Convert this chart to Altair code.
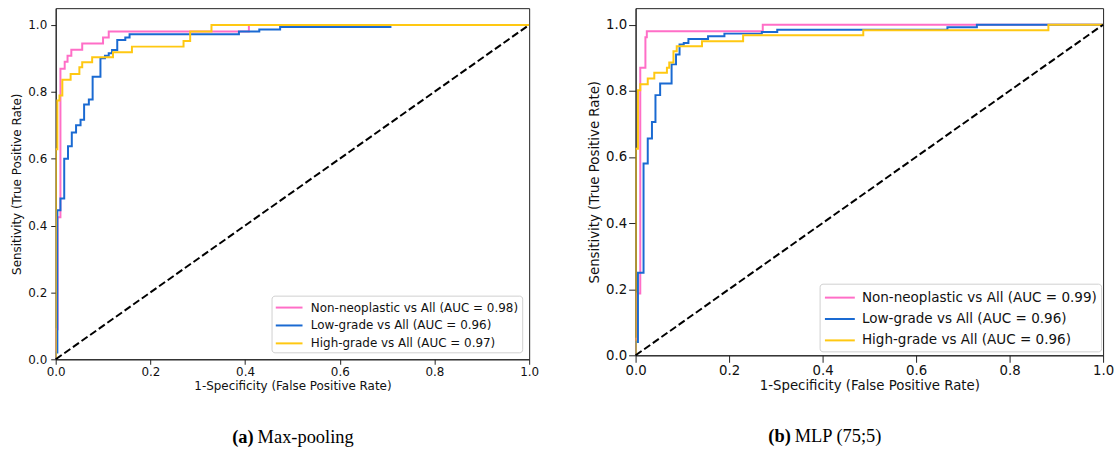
import altair as alt
import pandas as pd

# ---------------- data ----------------
series_names = ["Non-neoplastic", "Low-grade", "High-grade"]
colors = ["#ff6ec7", "#1a6ad2", "#ffc812"]

auc_a = ["0.98", "0.96", "0.97"]
auc_b = ["0.99", "0.96", "0.96"]

# (a) Max-pooling
a_non_fpr = [0, 0, 0.004, 0.01, 0.019, 0.025, 0.033, 0.056, 0.1, 0.112, 0.408, 1.0]
a_non_tpr = [0, 0.09, 0.425, 0.869, 0.89, 0.908, 0.926, 0.944, 0.962, 0.98, 1.0, 1.0]
a_low_fpr = [0, 0, 0.0035, 0.01, 0.018, 0.026, 0.034, 0.043, 0.0525, 0.06, 0.07, 0.078,
             0.0945, 0.104, 0.112, 0.119, 0.13, 0.147, 0.156, 0.387, 0.43, 0.474, 0.707, 1.0]
a_low_tpr = [0, 0.02, 0.446, 0.481, 0.6, 0.637, 0.678, 0.70, 0.716, 0.762, 0.777, 0.845,
             0.90, 0.908, 0.915, 0.925, 0.955, 0.962, 0.972, 0.98, 0.986, 0.994, 1.0, 1.0]
a_high_fpr = [0, 0, 0.0035, 0.008, 0.014, 0.0315, 0.05, 0.056, 0.077, 0.121, 0.161,
              0.27, 0.284, 0.329, 1.0]
a_high_tpr = [0, 0.628, 0.774, 0.789, 0.836, 0.853, 0.873, 0.888, 0.903, 0.918, 0.935,
              0.952, 0.98, 1.0, 1.0]

# (b) MLP (75;5)
b_non_fpr = [0, 0, 0.004, 0.01, 0.021, 0.024, 0.272, 1.0]
b_non_tpr = [0, 0.05, 0.187, 0.87, 0.962, 0.98, 1.0, 1.0]
b_low_fpr = [0, 0, 0.005, 0.017, 0.026, 0.035, 0.0425, 0.0525, 0.077, 0.0865, 0.094,
             0.103, 0.113, 0.155, 0.19, 0.27, 0.303, 0.667, 0.73, 1.0]
b_low_tpr = [0, 0.04, 0.25, 0.58, 0.656, 0.706, 0.787, 0.822, 0.88, 0.91, 0.94,
             0.945, 0.957, 0.965, 0.973, 0.978, 0.985, 0.992, 1.0, 1.0]
b_high_fpr = [0, 0, 0.005, 0.01, 0.026, 0.04, 0.067, 0.072, 0.081, 0.088, 0.142,
              0.23, 0.487, 0.883, 1.0]
b_high_tpr = [0, 0.625, 0.802, 0.82, 0.837, 0.855, 0.87, 0.886, 0.92, 0.935, 0.95,
              0.968, 0.983, 1.0, 1.0]

diag = [0.0, 1.0]

FONT = "DejaVu Sans"


def build_df(curves, aucs):
    rows = []
    labels = []
    for k, ((fx, ty), name, auc) in enumerate(zip(curves, series_names, aucs)):
        label = f"{name} vs All (AUC = {auc})"
        labels.append(label)
        for i, (x, y) in enumerate(zip(fx, ty)):
            rows.append({"fpr": x, "tpr": y, "series": label, "k": k, "i": i})
    return pd.DataFrame(rows), labels


def panel(curves, aucs, w, h, lx, ly, tag, cap, tag_x, cap_y, fs, lfs, tick, xlp, xtp, ylp, ytp,
          sym_size, lpad, loff, lrow, top_gap):
    df, labels = build_df(curves, aucs)
    xs = alt.Scale(domain=[0, 1], nice=False, zero=False)
    ys = alt.Scale(domain=[0, 1.05], nice=False, zero=False)
    ticks = [0, 0.2, 0.4, 0.6, 0.8, 1.0]
    lines = alt.Chart(df).mark_line(interpolate="step-after", strokeWidth=2, clip=True).encode(
        x=alt.X("fpr:Q", scale=xs,
                axis=alt.Axis(values=ticks, format=".1f", labelFlush=False,
                              labelFontSize=fs, titleFontSize=fs, tickSize=tick,
                              labelPadding=xlp, titlePadding=xtp,
                              title="1-Specificity (False Positive Rate)")),
        y=alt.Y("tpr:Q", scale=ys,
                axis=alt.Axis(values=ticks, format=".1f", labelFlush=False,
                              labelFontSize=fs, titleFontSize=fs, tickSize=tick,
                              labelPadding=ylp, titlePadding=ytp,
                              title="Sensitivity (True Positive Rate)")),
        color=alt.Color("series:N",
                        scale=alt.Scale(domain=labels, range=colors),
                        sort=labels,
                        legend=alt.Legend(orient="none", legendX=lx, legendY=ly, title=None,
                                          labelFontSize=lfs, symbolSize=sym_size,
                                          padding=lpad, labelOffset=loff, rowPadding=lrow)),
        detail="k:N",
        order="i:Q",
    )
    ddf = pd.DataFrame({"fpr": diag, "tpr": diag})
    dline = alt.Chart(ddf).mark_line(color="black", strokeWidth=2, strokeDash=[7.4, 3.2]).encode(
        x=alt.X("fpr:Q", scale=xs), y=alt.Y("tpr:Q", scale=ys))
    t1 = alt.Chart(pd.DataFrame({"t": [tag]})).mark_text(
        font="Liberation Serif", fontSize=18.5, fontWeight="bold", align="right", baseline="middle",
        color="black").encode(text="t:N", x=alt.value(tag_x), y=alt.value(cap_y))
    t2 = alt.Chart(pd.DataFrame({"t": [cap]})).mark_text(
        font="Liberation Serif", fontSize=18.5, align="left", baseline="middle",
        color="black").encode(text="t:N", x=alt.value(tag_x + 4), y=alt.value(cap_y))
    layers = [lines, dline, t1, t2]
    if top_gap > 0:
        # invisible spacer that lowers this panel a little inside the row
        spacer = alt.Chart(pd.DataFrame({"t": [0]})).mark_rule(strokeOpacity=0, strokeWidth=0.1).encode(
            x=alt.value(0), y=alt.value(-top_gap), y2=alt.value(0))
        layers.append(spacer)
    return alt.layer(*layers).properties(width=w, height=h)


left = panel([(a_non_fpr, a_non_tpr), (a_low_fpr, a_low_tpr), (a_high_fpr, a_high_tpr)],
             auc_a, 476, 353, 217, 289, "(a)", "Max-pooling", 199, 431,
             fs=12, lfs=12, tick=5, xlp=2, xtp=3, ylp=4, ytp=4,
             sym_size=240, lpad=3, loff=18.5, lrow=3, top_gap=0)
right = panel([(b_non_fpr, b_non_tpr), (b_low_fpr, b_low_tpr), (b_high_fpr, b_high_tpr)],
              auc_b, 470, 349, 185, 277, "(b)", "MLP (75;5)", 156, 430,
              fs=13.4, lfs=13.6, tick=7, xlp=1, xtp=2, ylp=2, ytp=4,
              sym_size=300, lpad=4, loff=18.5, lrow=4.5, top_gap=2)

chart = alt.hconcat(left, right, spacing=47).resolve_scale(color="independent").properties(
    padding={"left": 10, "top": 4, "right": 5, "bottom": 5}
).configure_view(stroke="#222", strokeWidth=1).configure_axis(
    labelFont=FONT, titleFont=FONT,
    titleFontWeight="normal", labelColor="#111", titleColor="#111",
    tickColor="#222", domainColor="#222", grid=False,
).configure_legend(
    labelFont=FONT, labelColor="#111",
    symbolType="M-1,0H2.47", symbolStrokeWidth=2,
    strokeColor="#d0d0d0", fillColor="white", cornerRadius=3,
    labelLimit=400,
)

chart.save("out.html", embed_options={"renderer": "svg", "actions": False})
